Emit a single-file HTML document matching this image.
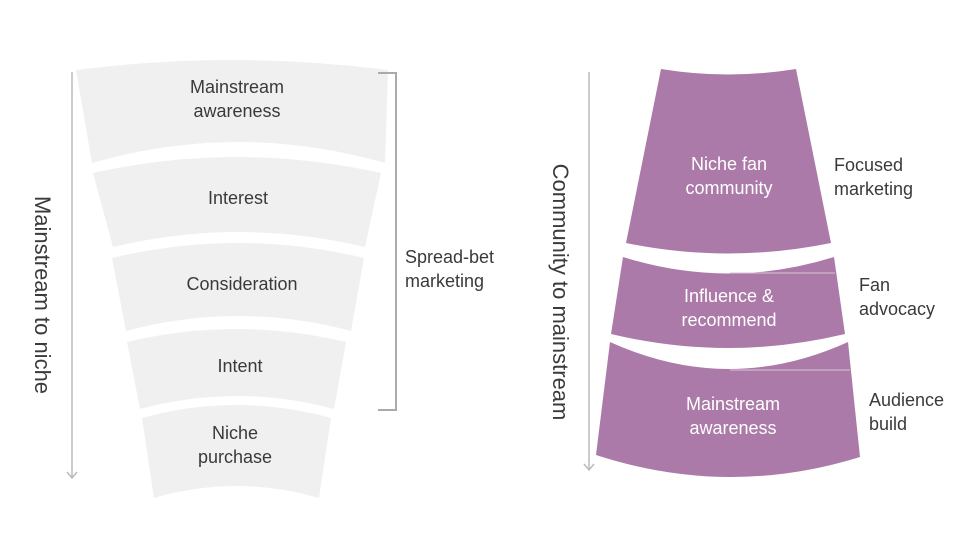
<!DOCTYPE html>
<html><head><meta charset="utf-8"><style>
body{margin:0;background:#fff}
svg{display:block}
text{font-family:"Liberation Sans",sans-serif;font-size:18px;fill:#3a3a3a}
.w{fill:#fff}
</style></head><body>
<svg width="960" height="540" viewBox="0 0 960 540">
<g fill="#f0f0f0">
<path d="M76,70 Q232,50 388,70 L385,163 Q238,121 92,163 Z"/>
<path d="M93,173 Q237,141 381,173 L365,247 Q239,217 113,247 Z"/>
<path d="M112,258 Q238,228 364,258 L351,331 Q238,301 126,331 Z"/>
<path d="M127,342 Q236,316 346,342 L334,409 Q237,383 140,409 Z"/>
<path d="M142,418 Q236,392 331,418 L319,498 Q236,474 154,498 Z"/>
</g>
<line x1="72" y1="72" x2="72" y2="478" stroke="#bbb" stroke-width="1.5"/>
<polyline points="67,472 72,478 77,472" fill="none" stroke="#bbb" stroke-width="1.5"/>
<polyline points="378,73 396,73 396,410 378,410" fill="none" stroke="#aaa" stroke-width="2"/>
<text text-anchor="middle" x="237" y="93">Mainstream</text>
<text text-anchor="middle" x="237" y="117">awareness</text>
<text text-anchor="middle" x="238" y="204">Interest</text>
<text text-anchor="middle" x="242" y="290">Consideration</text>
<text text-anchor="middle" x="240" y="372">Intent</text>
<text text-anchor="middle" x="235" y="439">Niche</text>
<text text-anchor="middle" x="235" y="463">purchase</text>
<text x="405" y="263">Spread-bet</text>
<text x="405" y="287">marketing</text>
<text transform="translate(35,295) rotate(90)" text-anchor="middle" style="font-size:22px">Mainstream to niche</text>

<g fill="#ab7aa8">
<path d="M661,69 Q728,80 796,69 L831,243 Q728,264 626,243 Z"/>
<path d="M623,257 Q728,290 834,257 L845,334 Q728,362 611,334 Z"/>
<path d="M610,342 Q729,396 848,342 L860,457 Q728,498 596,455 Z"/>
</g>
<line x1="730" y1="273" x2="835" y2="273" stroke="#d8c3d6" stroke-width="1"/>
<line x1="730" y1="370" x2="850" y2="370" stroke="#d8c3d6" stroke-width="1"/>
<line x1="589" y1="72" x2="589" y2="470" stroke="#bbb" stroke-width="1.5"/>
<polyline points="584,464 589,470 594,464" fill="none" stroke="#bbb" stroke-width="1.5"/>
<text transform="translate(553,292) rotate(90)" text-anchor="middle" style="font-size:22px">Community to mainstream</text>
<text class="w" text-anchor="middle" x="729" y="170">Niche fan</text>
<text class="w" text-anchor="middle" x="729" y="194">community</text>
<text class="w" text-anchor="middle" x="729" y="302">Influence &amp;</text>
<text class="w" text-anchor="middle" x="729" y="326">recommend</text>
<text class="w" text-anchor="middle" x="733" y="410">Mainstream</text>
<text class="w" text-anchor="middle" x="733" y="434">awareness</text>
<text x="834" y="171">Focused</text>
<text x="834" y="195">marketing</text>
<text x="859" y="291">Fan</text>
<text x="859" y="315">advocacy</text>
<text x="869" y="406">Audience</text>
<text x="869" y="430">build</text>
</svg>
</body></html>
